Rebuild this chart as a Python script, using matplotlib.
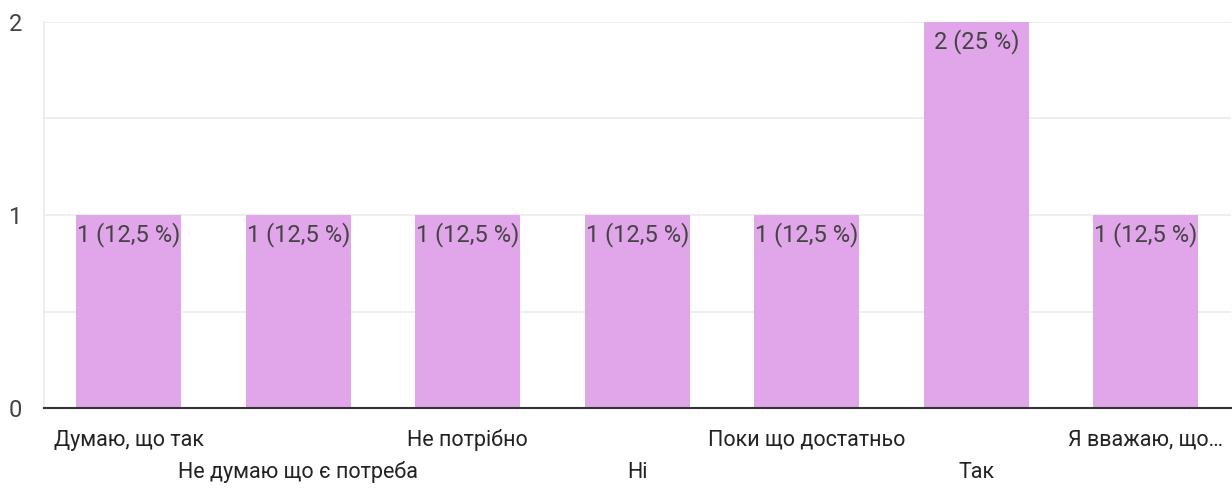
import matplotlib
matplotlib.use("Agg")
import matplotlib.pyplot as plt

categories = ["Думаю, що так", "Не думаю що є потреба", "Не потрібно", "Ні",
              "Поки що достатньо", "Так", "Я вважаю, що…"]
counts = [1, 1, 1, 1, 1, 2, 1]
bar_labels = ["1 (12,5 %)", "1 (12,5 %)", "1 (12,5 %)", "1 (12,5 %)",
              "1 (12,5 %)", "2 (25 %)", "1 (12,5 %)"]
yticks = [0, 1, 2]

plt.rcParams['font.family'] = ['Roboto', 'DejaVu Sans']

W, H = 1232, 490
fig = plt.figure(figsize=(W / 100, H / 100), dpi=100)
ax = fig.add_axes([44 / W, (H - 408) / H, (1230.5 - 44) / W, (408 - 22) / H])

x = list(range(len(categories)))
bars = ax.bar(x, counts, width=0.62, color="#e1a5e9", zorder=2)
ax.set_xlim(-0.5, len(categories) - 0.5)
ax.set_ylim(0, 2)

for b, lab in zip(bars, bar_labels):
    ax.annotate(lab, (b.get_x() + b.get_width() / 2, b.get_height()),
                xytext=(0, -5), textcoords="offset points",
                ha="center", va="top", fontsize=17, color="#444444", zorder=3)

ax.set_yticks([0, 0.5, 1, 1.5, 2])
ax.set_yticklabels(["0", "", "1", "", "2"], fontsize=17, color="#444444")
ax.yaxis.grid(True, color="#ebebeb", linewidth=1.2, zorder=0)
ax.tick_params(axis="y", length=0, pad=16)
ax.tick_params(axis="x", length=0)

ax.set_xticks(x)
ax.set_xticklabels([])
for i, c in enumerate(categories):
    off = 0.166 if i % 2 == 0 else 0.332
    ax.text(i, -off, c, transform=ax.transData, ha="center", va="center",
            fontsize=15.5, color="#222222", clip_on=False)

for s in ["top", "right"]:
    ax.spines[s].set_visible(False)
ax.spines["left"].set_color("#ebebeb")
ax.spines["left"].set_linewidth(1.2)
ax.spines["bottom"].set_color("#333333")
ax.spines["bottom"].set_linewidth(1.5)
ax.spines["bottom"].set_zorder(4)

fig.savefig("out.png", dpi=100, facecolor="white")
